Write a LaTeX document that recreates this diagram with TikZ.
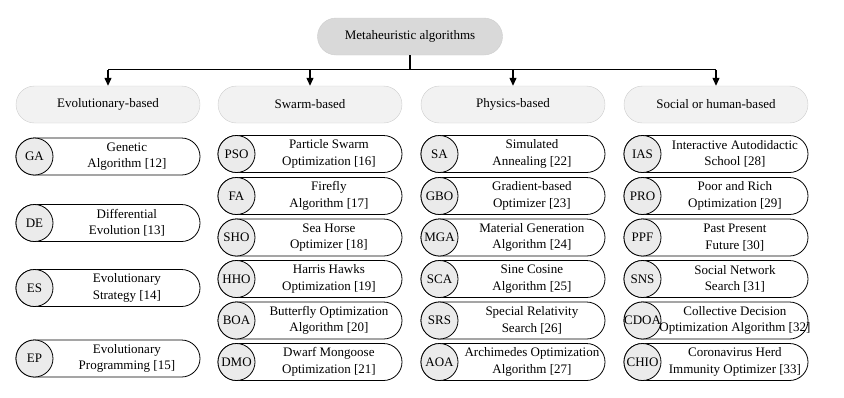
\documentclass[tikz,border=0pt]{standalone}
\usepackage{fontspec}
\setmainfont{Liberation Serif}
\usetikzlibrary{arrows.meta,positioning,calc}
\definecolor{topgray}{RGB}{217,217,217}
\definecolor{catgray}{RGB}{242,242,242}
\definecolor{edgegray}{RGB}{205,205,205}
\definecolor{abbrgray}{RGB}{235,235,235}
\tikzset{
  pillbox/.style={draw=black,line width=0.8bp,fill=white,rounded corners=18.5bp,
    minimum width=184bp,minimum height=37bp,inner sep=0pt},
  abbrbox/.style={circle,draw=black,line width=0.8bp,fill=abbrgray,
    minimum size=37bp,inner sep=0pt,anchor=west},
  catbox/.style={draw=edgegray,fill=catgray,rounded corners=18.5bp,
    minimum width=184bp,minimum height=37bp,inner sep=0pt},
  txtlbl/.style={align=center,inner sep=0pt},
  link/.style={line width=1.2bp},
}
\begin{document}
\begin{tikzpicture}[x=1bp,y=-1bp,every node/.style={font=\fontsize{13bp}{16.5bp}\selectfont}]
  \useasboundingbox (0,0) rectangle (844,397);
  % Root and groups
  \node[catbox,fill=topgray,minimum width=185bp] (meta) at (410,36.5) {Metaheuristic algorithms};
  \node[catbox] (evo) at (108,104.5) {Evolutionary-based};
  \node[catbox] (swarm) at (310,104.5) {Swarm-based};
  \node[catbox] (phys) at (513,104.5) {Physics-based};
  \node[catbox] (soc) at (716,104.5) {Social or human-based};
  \coordinate (bus) at (410,69.5);
  \draw[link] (meta.south) -- (bus);
  \draw[link] (evo.north |- bus) -- (soc.north |- bus);
  \foreach \grp in {evo,swarm,phys,soc}{
    \draw[link,-{Triangle[width=7bp,length=8bp]}] (\grp.north |- bus) -- (\grp.north);
  }
  % Evolutionary column
  \foreach \ab/\la/\lb/\yy [count=\k] in {GA/Genetic/Algorithm [12]/156.5,
      DE/Differential/Evolution [13]/223,ES/Evolutionary/Strategy [14]/288,
      EP/Evolutionary/Programming [15]/358.5}{
    \node[pillbox] (evo-\k) at (108,\yy) {};
    \node[abbrbox] (evo-\k-ab) at (evo-\k.west) {\makebox[0pt]{\ab}};
    \node[txtlbl] (evo-\k-tx) at ($(evo-\k-ab.east)!0.5!(evo-\k.east)$) {\la\\\lb};
  }
  % Other columns
  \foreach \grp/\xx in {swarm/310,phys/513,soc/716}{
    \foreach \yy [count=\k] in {154,196,237.5,279,320.5,362}{
      \node[pillbox] (\grp-\k) at (\xx,\yy) {};
    }
  }
  \foreach \grp/\ab/\la/\lb [count=\n] in {
      swarm/PSO/Particle Swarm/Optimization [16],swarm/FA/Firefly/Algorithm [17],
      swarm/SHO/Sea Horse/Optimizer [18],swarm/HHO/Harris Hawks/Optimization [19],
      swarm/BOA/Butterfly Optimization/Algorithm [20],swarm/DMO/Dwarf Mongoose/Optimization [21],
      phys/SA/Simulated/Annealing [22],phys/GBO/Gradient-based/Optimizer [23],
      phys/MGA/Material Generation/Algorithm [24],phys/SCA/Sine Cosine/Algorithm [25],
      phys/SRS/Special Relativity/Search [26],phys/AOA/Archimedes Optimization/Algorithm [27],
      soc/IAS/Interactive Autodidactic/School [28],soc/PRO/Poor and Rich/Optimization [29],
      soc/PPF/Past Present/Future [30],soc/SNS/Social Network/Search [31],
      soc/CDOA/Collective Decision/Optimization Algorithm [32],
      soc/CHIO/Coronavirus Herd/Immunity Optimizer [33]}{
    \pgfmathtruncatemacro{\k}{mod(\n-1,6)+1}
    \node[abbrbox] (\grp-\k-ab) at (\grp-\k.west) {\makebox[0pt]{\ab}};
    \node[txtlbl] (\grp-\k-tx) at ($(\grp-\k-ab.east)!0.5!(\grp-\k.east)$) {\la\\\lb};
  }
\end{tikzpicture}
\end{document}
